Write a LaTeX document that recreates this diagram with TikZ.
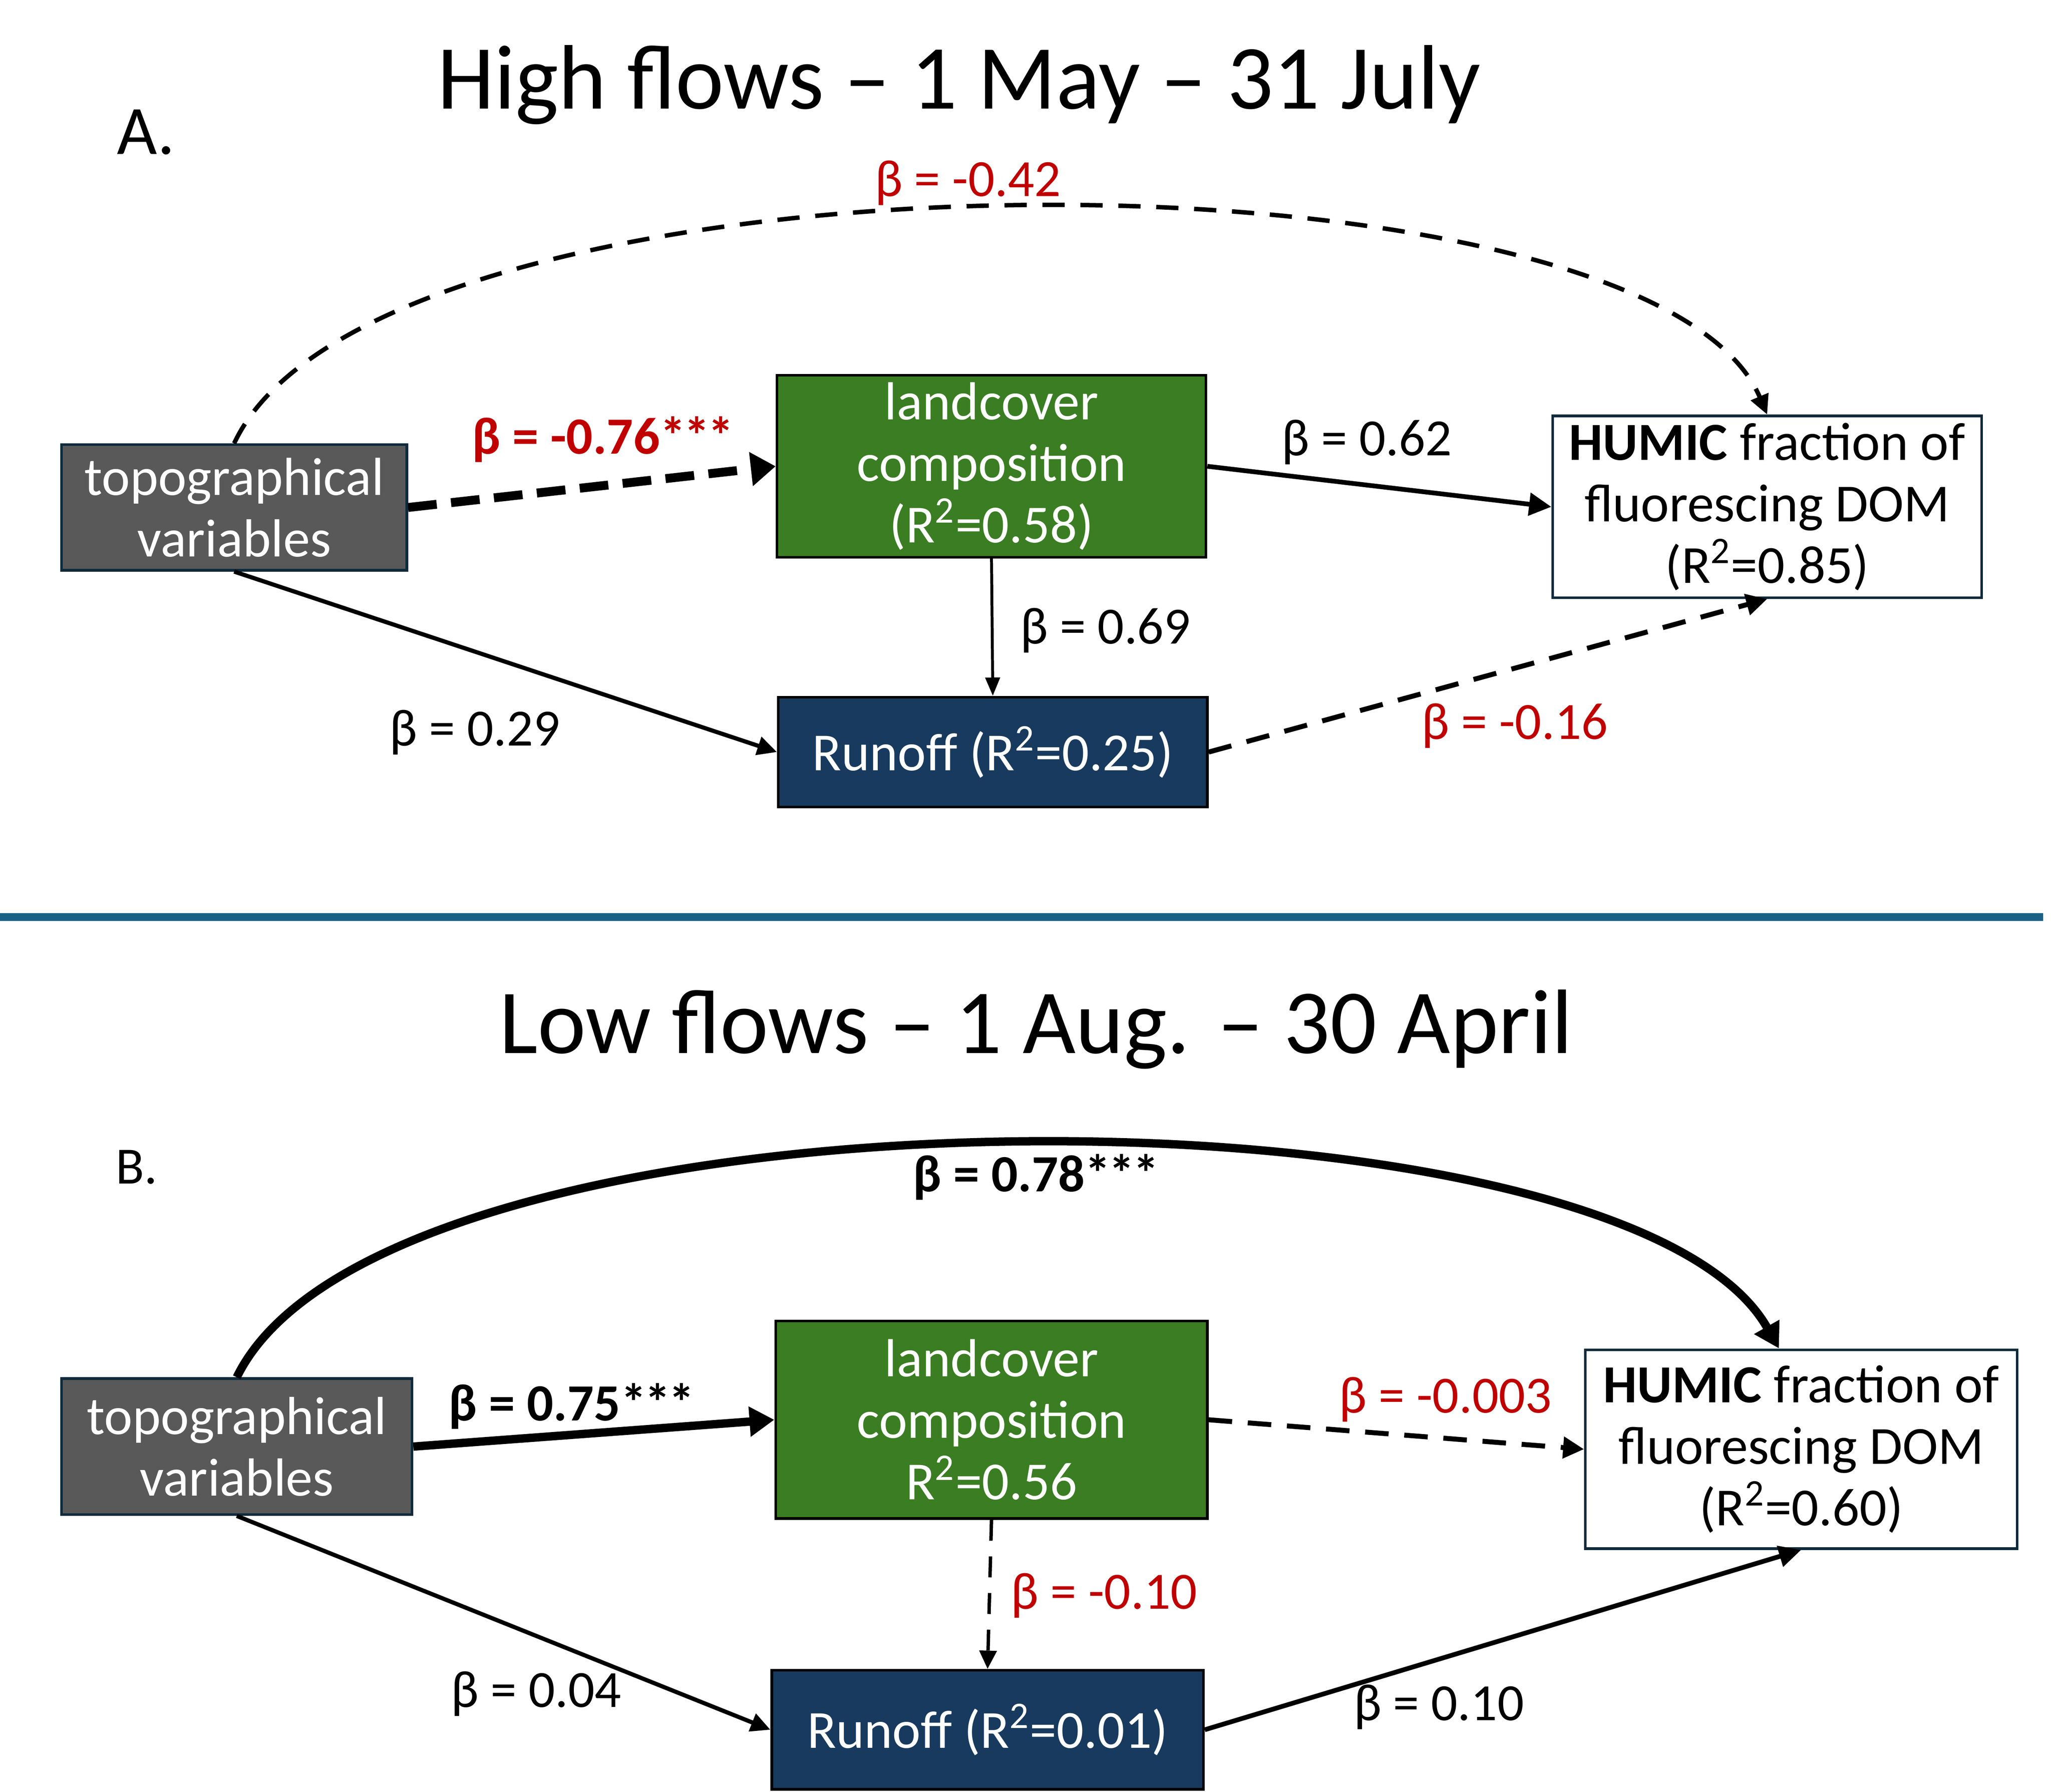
\documentclass[tikz,border=0pt]{standalone}
\usepackage{fontspec}
\setmainfont{Carlito}
\usetikzlibrary{arrows.meta}
\definecolor{boxgray}{HTML}{595959}
\definecolor{boxgreen}{HTML}{3A7D22}
\definecolor{boxnavy}{HTML}{183A5E}
\definecolor{edgenavy}{HTML}{0E2A3B}
\definecolor{betared}{HTML}{C00000}
\definecolor{sepblue}{HTML}{1A6285}
\newcommand{\stars}{*\kern-0.8pt*\kern-0.8pt*}
\begin{document}
\begin{tikzpicture}[x=0.5pt,y=-0.5pt,
  boxbase/.style={draw, line width=1pt, inner sep=0pt, align=center, font=\fontsize{20.5}{23.5}\selectfont},
  graybox/.style={boxbase, fill=boxgray, draw=edgenavy, text=white},
  greenbox/.style={boxbase, fill=boxgreen, draw=black, text=white},
  whitebox/.style={boxbase, fill=white, draw=edgenavy, text=black},
  navybox/.style={boxbase, fill=boxnavy, draw=black, text=white},
  betalab/.style={font=\fontsize{20}{24}\selectfont, inner sep=0pt},
  betaneg/.style={betalab, text=betared},
  ttl/.style={font=\fontsize{35}{42}\selectfont, inner sep=0pt},
  headtip/.style 2 args={-{Triangle[length=#1, width=#2]}},
  dashpat/.style 2 args={dash pattern=on #1 off #2},
]
\useasboundingbox (0,0) rectangle (1568,1370);

% ---------- Panel A ----------
\node[ttl] (titleA) at (733,65) {High flows – 1 May – 31 July};
\node[font=\fontsize{26.5}{30}\selectfont, inner sep=0pt, anchor=base west] (labA) at (89,118) {A.};

\node[graybox, minimum width=132pt, minimum height=48pt] (topoA) at (179,388) {topographical\\variables};
\node[greenbox, minimum width=164pt, minimum height=69.5pt] (landA) at (758,356.5) {landcover\\composition\\(R\textsuperscript{2}=0.58)};
\node[whitebox, minimum width=164pt, minimum height=69.5pt] (humA) at (1351,387.5) {\textbf{HUMIC} fraction of\\fluorescing DOM\\(R\textsuperscript{2}=0.85)};
\node[navybox, minimum width=164pt, minimum height=42pt] (runA) at (759,575) {Runoff (R\textsuperscript{2}=0.25)};

\draw[line width=3.4pt, dashpat={11pt}{5.5pt}, headtip={9.5pt}{12.5pt}] (topoA.east) -- (landA.west);
\draw[line width=1.8pt, headtip={8.5pt}{8.5pt}] (landA.east) -- (humA.west);
\draw[line width=1.1pt, headtip={7pt}{5.5pt}] (landA.south) -- (runA.north);
\draw[line width=1.6pt, headtip={7.5pt}{7pt}] (topoA.south) -- (runA.west);
\draw[line width=1.9pt, dashpat={9pt}{6pt}, headtip={8pt}{8pt}] (runA.east) -- (humA.south);
\draw[line width=1.7pt, dashpat={8.5pt}{6pt}, headtip={7.5pt}{7pt}] (topoA.north) .. controls (290,102) and (1260,102) .. (humA.north);

\node[betaneg, font=\fontsize{20}{24}\selectfont\bfseries] (bA1) at (461,336) {β = -0.76\stars};
\node[betalab] (bA2) at (1045,338) {β = 0.62};
\node[betalab] (bA3) at (845,482) {β = 0.69};
\node[betalab] (bA4) at (363,560) {β = 0.29};
\node[betaneg] (bA5) at (1158,555) {β = -0.16};
\node[betaneg] (bA6) at (740,140) {β = -0.42};

% ---------- separator ----------
\coordinate (sepL) at (0,701);
\coordinate (sepR) at (1562,701);
\draw[sepblue, line width=3pt] (sepL) -- (sepR);

% ---------- Panel B ----------
\node[ttl] (titleB) at (792,787) {Low flows – 1 Aug. – 30 April};
\node[font=\fontsize{20}{24}\selectfont, inner sep=0pt, anchor=base west] (labB) at (88,905) {B.};

\node[graybox, minimum width=134pt, minimum height=52pt] (topoB) at (181,1106) {topographical\\variables};
\node[greenbox, minimum width=165pt, minimum height=75.5pt] (landB) at (758,1085.5) {landcover\\composition\\R\textsuperscript{2}=0.56};
\node[whitebox, minimum width=165pt, minimum height=76pt] (humB) at (1377,1108) {\textbf{HUMIC} fraction of\\fluorescing DOM\\(R\textsuperscript{2}=0.60)};
\node[navybox, minimum width=165pt, minimum height=45.5pt] (runB) at (755,1322.5) {Runoff (R\textsuperscript{2}=0.01)};

\draw[line width=3.2pt, headtip={9.5pt}{11pt}] (topoB.east) -- (landB.west);
\draw[line width=1.9pt, dashpat={9pt}{6pt}, headtip={8pt}{8pt}] (landB.east) -- (humB.west);
\draw[line width=1.3pt, dashpat={8pt}{6pt}, headtip={7pt}{6.5pt}] (landB.south) -- (runB.north);
\draw[line width=1.6pt, headtip={7.5pt}{7pt}] (topoB.south) -- (runB.west);
\draw[line width=1.8pt, headtip={8.5pt}{8pt}] (runB.east) -- (humB.south);
\draw[line width=3.2pt, headtip={9.5pt}{10.5pt}] (topoB.north) .. controls (295,819) and (1240,819) .. ([xshift=-8.5pt]humB.north);

\node[betalab, font=\fontsize{20}{24}\selectfont\bfseries] (bB1) at (437,1075) {β = 0.75\stars};
\node[betaneg] (bB2) at (1105,1070) {β = -0.003};
\node[betaneg] (bB3) at (844,1220) {β = -0.10};
\node[betalab] (bB4) at (410,1295) {β = 0.04};
\node[betalab] (bB5) at (1100,1305) {β = 0.10};
\node[betalab, font=\fontsize{20}{24}\selectfont\bfseries] (bB6) at (792,900) {β = 0.78\stars};
\end{tikzpicture}
\end{document}
